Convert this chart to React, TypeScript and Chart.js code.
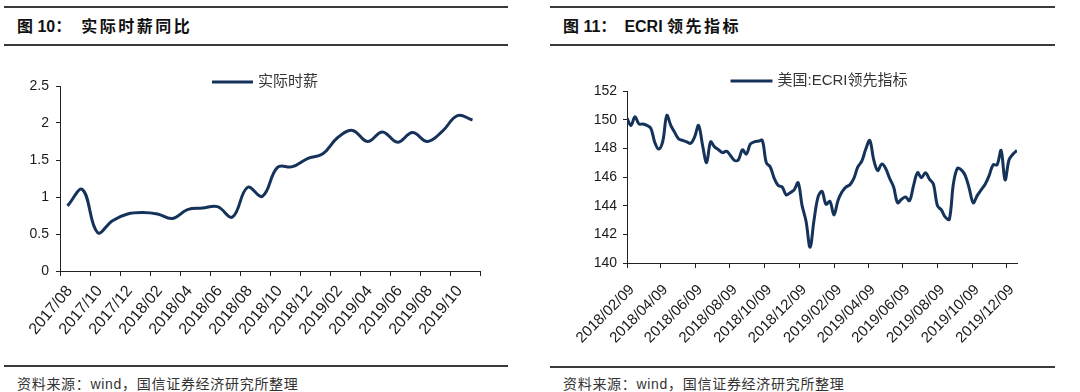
import React, { useEffect, useRef } from 'react';
import { Chart, registerables } from 'chart.js';

Chart.register(...registerables);

// ---------- data: 图10 实际时薪同比 (monthly) ----------
const wageMonths = [
  '2017/08', '2017/09', '2017/10', '2017/11', '2017/12',
  '2018/01', '2018/02', '2018/03', '2018/04', '2018/05', '2018/06',
  '2018/07', '2018/08', '2018/09', '2018/10', '2018/11', '2018/12',
  '2019/01', '2019/02', '2019/03', '2019/04', '2019/05', '2019/06',
  '2019/07', '2019/08', '2019/09', '2019/10', '2019/11',
];
const wageValues = [
  0.88, 1.1, 0.52, 0.68, 0.77, 0.79, 0.77, 0.71, 0.83, 0.85,
  0.87, 0.73, 1.13, 1.01, 1.4, 1.41, 1.52, 1.58, 1.8, 1.9,
  1.75, 1.88, 1.74, 1.87, 1.75, 1.89, 2.1, 2.04,
];
const wageLabel = '实际时薪';
const wageYTicks = [0, 0.5, 1, 1.5, 2, 2.5];

// ---------- data: 图11 ECRI领先指标 (weekly, from 2018/02/09) ----------
const ecriStart = '2018/02/09';
const ecriValues = [
  150.1, 149.6, 150.2, 149.7, 149.7, 149.6, 149.4, 148.4, 147.95, 148.5,
  150.3, 149.6, 149.1, 148.65, 148.55, 148.45, 148.35, 148.8, 149.6, 148.2,
  147.0, 148.45, 148.1, 147.9, 147.7, 147.8, 147.5, 147.15, 147.2, 147.9,
  147.6, 148.3, 148.45, 148.5, 148.55, 147.0, 146.7, 145.9, 145.4, 145.3,
  144.75, 144.9, 145.1, 145.6, 144.0, 142.9, 141.1, 143.0, 144.6, 145.0,
  144.1, 144.3, 143.35, 144.35, 144.95, 145.3, 145.45, 145.9, 146.7, 147.1,
  147.95, 148.55, 147.2, 146.45, 146.9, 146.6, 145.9, 145.3, 144.2, 144.45,
  144.6, 144.35, 145.4, 146.3, 145.95, 146.3, 145.85, 145.5, 144.0, 143.7,
  143.2, 143.05, 145.5, 146.6, 146.5, 146.1, 145.2, 144.2, 144.7, 145.1,
  145.5, 146.1, 146.85, 146.85, 147.85, 145.8, 147.2, 147.6, 147.85,
];
const ecriLabel = '美国:ECRI领先指标';
const ecriTickLabels = [
  '2018/02/09', '2018/04/09', '2018/06/09', '2018/08/09', '2018/10/09', '2018/12/09',
  '2019/02/09', '2019/04/09', '2019/06/09', '2019/08/09', '2019/10/09', '2019/12/09',
];

const LINE_COLOR = '#15335A';
const AXIS_COLOR = '#222222';
const TEXT_COLOR = '#1a1a1a';
const FONT = '"Liberation Sans", "Noto Sans CJK SC", Arial, sans-serif';

Chart.defaults.font.family = FONT;

const dayNum = (s: string) => {
  const [y, m, d] = s.split('/').map(Number);
  return Date.UTC(y, m - 1, d) / 86400000;
};

const lineLegend = {
  id: 'lineLegend',
  afterDraw(chart: any, _args: any, opts: any) {
    const { ctx, chartArea } = chart;
    const ds = chart.data.datasets[0];
    ctx.save();
    ctx.font = opts.font;
    const tw = ctx.measureText(ds.label).width;
    const total = opts.lineLength + opts.gap + tw;
    const x0 = (chartArea.left + chartArea.right) / 2 - total / 2 + opts.dx;
    const y = chartArea.top + opts.dy;
    ctx.strokeStyle = ds.borderColor;
    ctx.lineWidth = ds.borderWidth;
    ctx.beginPath();
    ctx.moveTo(x0, y);
    ctx.lineTo(x0 + opts.lineLength, y);
    ctx.stroke();
    ctx.fillStyle = opts.color;
    ctx.textBaseline = 'middle';
    ctx.textAlign = 'left';
    ctx.fillText(ds.label, x0 + opts.lineLength + opts.gap, y);
    ctx.restore();
  },
};

function wageConfig(): any {
  return {
    type: 'line',
    data: {
      labels: wageMonths,
      datasets: [{
        label: wageLabel,
        data: wageValues,
        borderColor: LINE_COLOR,
        borderWidth: 3,
        pointRadius: 0,
        tension: 0.4,
        fill: false,
      }],
    },
    options: {
      responsive: false,
      animation: false,
      events: [],
      layout: { padding: { top: 26, right: 28, left: 0, bottom: 0 } },
      plugins: {
        legend: { display: false },
        tooltip: { enabled: false },
        lineLegend: { font: `15px ${FONT}`, color: '#333', lineLength: 41, gap: 5, dx: -5, dy: -4 },
      },
      scales: {
        x: {
          type: 'category',
          offset: true,
          grid: {
            offset: true,
            drawOnChartArea: false,
            drawTicks: true,
            tickLength: 5,
            lineWidth: 1,
            color: (c: any) => (c.index === undefined || c.index % 2 === 0 ? AXIS_COLOR : 'rgba(0,0,0,0)'),
          },
          border: { color: AXIS_COLOR, width: 1 },
          ticks: {
            autoSkip: false,
            minRotation: 50,
            maxRotation: 50,
            padding: 6,
            labelOffset: 2,
            color: TEXT_COLOR,
            font: { size: 16 },
            callback: (_v: any, i: number) => (i % 2 === 0 ? wageMonths[i] : ''),
          },
          afterFit: (s: any) => { s.height = 89; },
        },
        y: {
          min: wageYTicks[0],
          max: wageYTicks[wageYTicks.length - 1],
          afterBuildTicks: (s: any) => { s.ticks = wageYTicks.map((v) => ({ value: v })); },
          ticks: {
            padding: 7,
            color: TEXT_COLOR,
            font: { size: 14 },
            callback: (v: any) => String(v),
          },
          grid: { drawOnChartArea: false, tickLength: 4, color: AXIS_COLOR },
          border: { color: AXIS_COLOR, width: 1 },
          afterFit: (s: any) => { s.width = 60; },
        },
      },
    },
    plugins: [lineLegend],
  };
}

function ecriConfig(): any {
  const base = dayNum(ecriStart);
  const points = ecriValues.map((v, k) => ({ x: k * 7, y: v }));
  return {
    type: 'line',
    data: {
      datasets: [{
        label: ecriLabel,
        data: points,
        borderColor: LINE_COLOR,
        borderWidth: 3,
        pointRadius: 0,
        tension: 0.35,
        fill: false,
      }],
    },
    options: {
      responsive: false,
      animation: false,
      events: [],
      layout: { padding: { top: 31, right: 63, left: 0, bottom: 0 } },
      plugins: {
        legend: { display: false },
        tooltip: { enabled: false },
        lineLegend: { font: `15px ${FONT}`, color: '#333', lineLength: 42, gap: 5, dx: -3, dy: -10 },
      },
      scales: {
        x: {
          type: 'linear',
          min: 0,
          max: (ecriValues.length - 1) * 7,
          afterBuildTicks: (s: any) => {
            s.ticks = ecriTickLabels.map((t) => ({ value: dayNum(t) - base }));
          },
          grid: { drawOnChartArea: false, drawTicks: true, tickLength: 5, color: AXIS_COLOR },
          border: { color: AXIS_COLOR, width: 1 },
          ticks: {
            autoSkip: false,
            minRotation: 45,
            maxRotation: 45,
            padding: 13,
            labelOffset: 5,
            color: TEXT_COLOR,
            font: { size: 15 },
            callback: (_v: any, i: number) => ecriTickLabels[i],
          },
          afterFit: (s: any) => { s.height = 97; },
        },
        y: {
          min: 140,
          max: 152,
          ticks: { stepSize: 2, padding: 6, color: TEXT_COLOR, font: { size: 14 } },
          grid: { drawOnChartArea: false, tickLength: 4, color: AXIS_COLOR },
          border: { color: AXIS_COLOR, width: 1 },
          afterFit: (s: any) => { s.width = 87; },
        },
      },
    },
    plugins: [lineLegend],
  };
}

function ChartCanvas({ make, left, top, width, height }: any) {
  const ref = useRef<HTMLCanvasElement>(null);
  useEffect(() => {
    const chart = new Chart(ref.current as HTMLCanvasElement, make());
    return () => chart.destroy();
  }, []);
  return (
    <canvas
      ref={ref}
      width={width}
      height={height}
      style={{ position: 'absolute', left, top, width, height }}
    />
  );
}

const rule = (left: number, top: number, width: number) => (
  <div style={{ position: 'absolute', left, top, width, height: 2, background: '#3a3a3a' }} />
);

const titleStyle: React.CSSProperties = {
  position: 'absolute',
  top: 19,
  fontFamily: FONT,
  fontWeight: 'bold',
  fontSize: 16,
  lineHeight: '16px',
  color: '#111',
  whiteSpace: 'nowrap',
};

const sourceStyle: React.CSSProperties = {
  position: 'absolute',
  top: 377,
  fontFamily: FONT,
  fontSize: 14,
  lineHeight: '14px',
  letterSpacing: 0.7,
  color: '#333',
  whiteSpace: 'nowrap',
};

export default function App() {
  return (
    <div style={{ position: 'absolute', left: 0, top: 0, width: 1080, height: 392, background: '#fff', overflow: 'hidden' }}>
      {rule(4, 6, 504)}
      <div style={{ ...titleStyle, left: 17 }}>
        <span>图 10：</span>
        <span style={{ marginLeft: 10, letterSpacing: 2.5 }}>实际时薪同比</span>
      </div>
      {rule(4, 44, 504)}
      <ChartCanvas make={wageConfig} left={0} top={60} width={508} height={300} />
      {rule(4, 365, 504)}
      <div style={{ ...sourceStyle, left: 17 }}>资料来源：wind，国信证券经济研究所整理</div>

      {rule(550, 6, 505)}
      <div style={{ ...titleStyle, left: 563 }}>
        <span>图 11：</span>
        <span style={{ marginLeft: 8 }}>ECRI </span>
        <span style={{ letterSpacing: 2.5 }}>领先指标</span>
      </div>
      {rule(550, 44, 505)}
      <ChartCanvas make={ecriConfig} left={540} top={60} width={540} height={300} />
      {rule(550, 366, 505)}
      <div style={{ ...sourceStyle, left: 563 }}>资料来源：wind，国信证券经济研究所整理</div>
    </div>
  );
}
